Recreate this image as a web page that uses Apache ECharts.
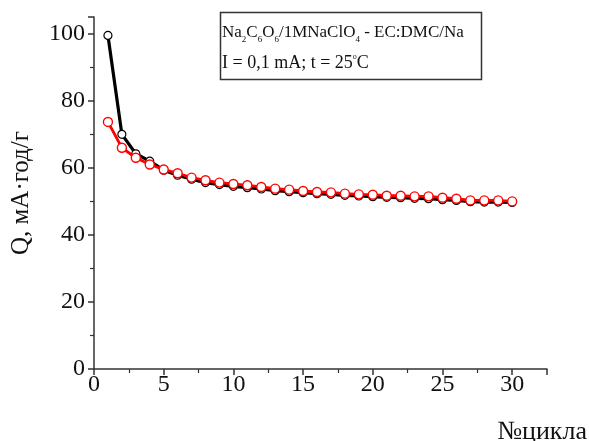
<!DOCTYPE html>
<html>
<head>
<meta charset="utf-8">
<script src="https://cdn.jsdelivr.net/npm/echarts@6/dist/echarts.min.js"></script>
<style>html,body{margin:0;padding:0;background:#fff}#c{width:589px;height:441px}</style>
</head>
<body>
<div id="c"></div>
<script>
var cycles = [1,2,3,4,5,6,7,8,9,10,11,12,13,14,15,16,17,18,19,20,21,22,23,24,25,26,27,28,29,30];
var blackQ = [99.5,70,64.2,62,59.3,57.8,56.6,55.6,55.0,54.5,54.1,53.7,53.2,52.9,52.6,52.3,52.1,51.8,51.6,51.4,51.2,51.1,50.9,50.8,50.5,50.3,49.9,49.8,49.8,49.7];
var redQ = [73.7,66,63,61,59.5,58.4,57.1,56.3,55.6,55.2,54.8,54.3,53.8,53.5,53.1,52.8,52.7,52.3,52.1,52,51.7,51.7,51.5,51.5,51.1,50.8,50.3,50.3,50.3,50];
var xTicks = [0,5,10,15,20,25,30];
var yTicks = [0,20,40,60,80,100];

function pairs(v){ return cycles.map(function(c,i){ return [c, v[i]]; }); }
var font = 'Liberation Serif';
var chart = echarts.init(document.getElementById('c'), null, {renderer:'canvas'});
chart.setOption({
  animation:false,
  backgroundColor:'#fff',
  grid:{left:94,right:42,top:17,bottom:72,containLabel:false,outerBoundsMode:'none'},
  xAxis:{
    type:'value', min:0, max:32.5, interval:5,
    axisLine:{show:true,onZero:false,lineStyle:{color:'#333',width:1.5}},
    axisTick:{show:true,inside:false,length:6,lineStyle:{color:'#333',width:1.5}},
    minorTick:{show:true,splitNumber:2,length:4,lineStyle:{color:'#333',width:1.2}},
    splitLine:{show:false},
    axisLabel:{color:'#111',fontFamily:font,fontSize:24,margin:4,
      formatter:function(v){ return xTicks.indexOf(v)>=0 ? String(v) : ''; }},
    name:'№цикла', nameLocation:'end', nameGap:0,
    nameTextStyle:{color:'#111',fontFamily:font,fontSize:26,align:'right',verticalAlign:'top',padding:[50,-40,0,0]}
  },
  yAxis:{
    type:'value', min:0, max:105, interval:20,
    axisLine:{show:true,onZero:false,lineStyle:{color:'#333',width:1.5}},
    axisTick:{show:true,inside:false,length:6,lineStyle:{color:'#333',width:1.5}},
    minorTick:{show:true,splitNumber:2,length:4,lineStyle:{color:'#333',width:1.2}},
    splitLine:{show:false},
    axisLabel:{color:'#111',fontFamily:font,fontSize:24,margin:9,
      formatter:function(v){ return yTicks.indexOf(v)>=0 ? String(v) : ''; }},
    name:'Q, мА·год/г', nameLocation:'middle', nameGap:60, nameRotate:90,
    nameTextStyle:{color:'#111',fontFamily:font,fontSize:25}
  },
  series:[
    {type:'line', data:pairs(blackQ), symbol:'circle', symbolSize:8,
      lineStyle:{color:'#000',width:3.2}, itemStyle:{color:'#fff',borderColor:'#000',borderWidth:1.2}, z:2},
    {type:'line', data:pairs(redQ), symbol:'circle', symbolSize:9,
      lineStyle:{color:'#ff0000',width:2.8}, itemStyle:{color:'#fff',borderColor:'#ff0000',borderWidth:1.4}, z:3}
  ],
  graphic:[
    {type:'rect', shape:{x:220.5,y:12.5,width:261,height:67}, style:{fill:'#fff',stroke:'#333',lineWidth:1.5}, z:10},
    {type:'text', x:222, y:21, z:11, style:{
      text:'Na{s|2}C{s|6}O{s|6}/1MNaClO{s|4} - EC:DMC/Na',
      font:'17px "Liberation Serif"', fill:'#111',
      rich:{s:{fontSize:9,fontFamily:font,padding:[14,0,0,0]}}
    }},
    {type:'text', x:222, y:53, z:11, style:{
      text:'I = 0,1 mA; t = 25{sup|o}C',
      font:'18px "Liberation Serif"', fill:'#111',
      rich:{sup:{fontSize:8,fontFamily:font,padding:[0,0,12,0]}}
    }}
  ]
});
</script>
</body>
</html>
